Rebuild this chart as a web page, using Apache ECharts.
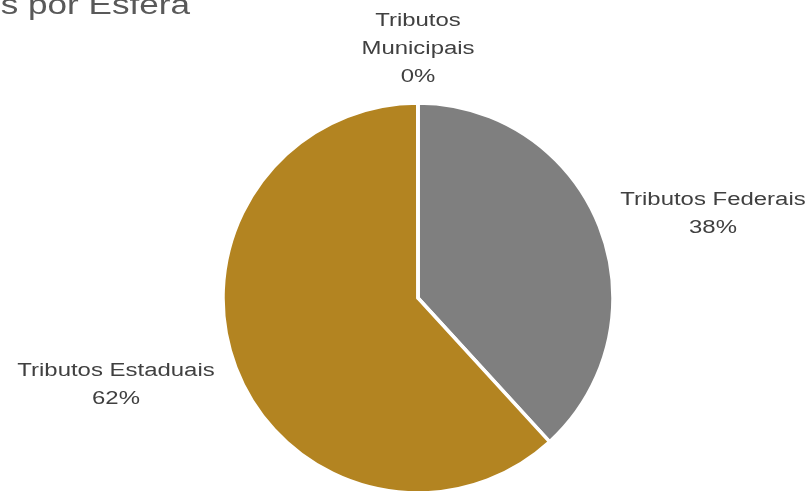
<!DOCTYPE html>
<html><head><meta charset="utf-8">
<script src="https://cdn.jsdelivr.net/npm/echarts@6/dist/echarts.min.js"></script>
<style>html,body{margin:0;padding:0;background:#fff}#c{width:809px;height:491px}</style>
</head><body><div id="c"></div>
<script>
const titleText = 'Tributos por Esfera';
const categories = ['Tributos Federais', 'Tributos Estaduais', 'Tributos Municipais'];
const values = [38.2, 61.78, 0.02];
const pctLabels = ['38%', '62%', '0%'];
const labelNames = ['Tributos Federais', 'Tributos Estaduais', 'Tributos\nMunicipais'];
const colors = ['#7F7F7F', '#B38421', '#A5A5A5'];

const labelPos = [[713, 214], [116, 385], [418, 49]];
const FONT = '"Liberation Sans", Arial, sans-serif';

const labelGraphics = categories.map((c, i) => ({
  type: 'text', x: labelPos[i][0], y: labelPos[i][1], scaleX: 1.33,
  style: {
    text: labelNames[i] + '\n' + pctLabels[i],
    font: '18px ' + FONT, fill: '#404040',
    textAlign: 'center', textVerticalAlign: 'middle', lineHeight: 28
  }
}));

const chart = echarts.init(document.getElementById('c'));
chart.setOption({
  animation: false,
  graphic: [{
    type: 'text', x: 190, y: -7, scaleX: 1.3,
    style: {text: titleText, font: '27px ' + FONT, fill: '#595959', textAlign: 'right', textVerticalAlign: 'top'}
  }].concat(labelGraphics),
  series: [{
    type: 'pie',
    center: [418, 298],
    radius: [0, 195],
    startAngle: 90,
    clockwise: true,
    itemStyle: {borderColor: '#fff', borderWidth: 3.5},
    label: {show: false},
    labelLine: {show: false},
    data: categories.map((c, i) => ({name: c, value: values[i], itemStyle: {color: colors[i]}}))
  }]
});
</script></body></html>
